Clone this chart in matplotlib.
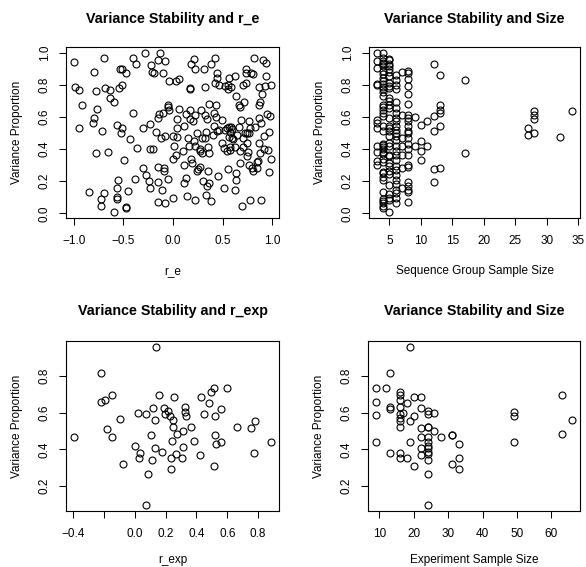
import matplotlib
matplotlib.use('Agg')
import matplotlib.pyplot as plt

plt.rcParams['font.family'] = ['Liberation Sans', 'DejaVu Sans']

# r_e vs variance proportion (top left)
re_x = [-1.00, -0.99, -0.95, -0.92, -0.95, -0.85, -0.80, -0.78, -0.77, -0.80,
        -0.81, -0.78, -0.72, -0.73, -0.73, -0.70, -0.70, -0.69, -0.64, -0.64,
        -0.60, -0.66, -0.60, -0.57, -0.56, -0.56, -0.55, -0.56, -0.53, -0.51,
        -0.54, -0.51, -0.51, -0.52, -0.49, -0.47, -0.47, -0.47, -0.45, -0.43,
        -0.40, -0.40, -0.38, -0.37, -0.36, -0.30, -0.30, -0.28, -0.27, -0.24,
        -0.23, -0.23, -0.20, -0.23, -0.22, -0.21, -0.19, -0.17, -0.15, -0.15,
        -0.15, -0.15, -0.15, -0.14, -0.13, -0.12, -0.11, -0.10, -0.10, -0.09,
        -0.09, -0.08, -0.08, -0.08, -0.05, -0.05, -0.04, -0.05, -0.04, 0.00,
        0.00, 0.00, 0.01, 0.03, 0.06, 0.03, 0.04, 0.04, 0.045, 0.06,
        0.10, 0.11, 0.115, 0.115, 0.13, 0.13, 0.14, 0.15, 0.17, 0.17,
        0.165, 0.17, 0.17, 0.18, 0.19, 0.185, 0.20, 0.21, 0.21, 0.22,
        0.22, 0.22, 0.22, 0.24, 0.25, 0.24, 0.27, 0.27, 0.28, 0.27,
        0.29, 0.29, 0.30, 0.31, 0.32, 0.32, 0.32, 0.33, 0.33, 0.34,
        0.35, 0.34, 0.35, 0.36, 0.36, 0.36, 0.38, 0.38, 0.40, 0.41,
        0.41, 0.42, 0.42, 0.43, 0.43, 0.44, 0.44, 0.44, 0.45, 0.46,
        0.46, 0.49, 0.49, 0.51, 0.51, 0.52, 0.525, 0.54, 0.545, 0.555,
        0.56, 0.56, 0.565, 0.565, 0.57, 0.585, 0.58, 0.58, 0.58, 0.585,
        0.60, 0.60, 0.61, 0.625, 0.625, 0.63, 0.64, 0.64, 0.64, 0.65,
        0.67, 0.67, 0.68, 0.68, 0.68, 0.69, 0.70, 0.705, 0.71, 0.71,
        0.72, 0.73, 0.735, 0.735, 0.74, 0.745, 0.75, 0.75, 0.76, 0.77,
        0.77, 0.77, 0.78, 0.78, 0.79, 0.80, 0.81, 0.81, 0.82, 0.83,
        0.85, 0.85, 0.855, 0.865, 0.865, 0.865, 0.865, 0.875, 0.88, 0.89,
        0.89, 0.90, 0.91, 0.915, 0.92, 0.93, 0.94, 0.94, 0.95, 0.955,
        0.97, 0.97, 0.98, 0.99, 0.99]
re_y = [0.94, 0.785, 0.765, 0.675, 0.53, 0.13, 0.88, 0.76, 0.65, 0.59,
        0.56, 0.375, 0.51, 0.09, 0.045, 0.125, 0.965, 0.78, 0.77, 0.715,
        0.695, 0.38, 0.01, 0.09, 0.10, 0.55, 0.21, 0.16, 0.90, 0.90,
        0.78, 0.80, 0.53, 0.50, 0.33, 0.04, 0.03, 0.87, 0.14, 0.46,
        0.965, 0.625, 0.215, 0.93, 0.405, 0.53, 0.28, 0.995, 0.24, 0.20,
        0.16, 0.40, 0.40, 0.555, 0.925, 0.88, 0.875, 0.505, 0.07, 0.195,
        0.955, 0.29, 0.59, 0.62, 0.995, 0.47, 0.145, 0.625, 0.875, 0.265,
        0.28, 0.945, 0.063, 0.48, 0.66, 0.675, 0.64, 0.215, 0.82, 0.48,
        0.095, 0.34, 0.42, 0.825, 0.835, 0.36, 0.53, 0.585, 0.475, 0.65,
        0.385, 0.19, 0.545, 0.30, 0.62, 0.22, 0.11, 0.47, 0.775, 0.78,
        0.42, 0.64, 0.585, 0.335, 0.31, 0.93, 0.575, 0.45, 0.96, 0.90,
        0.085, 0.61, 0.42, 0.26, 0.275, 0.50, 0.40, 0.385, 0.645, 0.29,
        0.375, 0.47, 0.20, 0.895, 0.785, 0.61, 0.47, 0.505, 0.115, 0.17,
        0.415, 0.585, 0.26, 0.68, 0.19, 0.375, 0.075, 0.93, 0.485, 0.545,
        0.625, 0.81, 0.965, 0.60, 0.675, 0.875, 0.84, 0.51, 0.23, 0.515,
        0.795, 0.58, 0.435, 0.405, 0.16, 0.515, 0.79, 0.53, 0.385, 0.275,
        0.795, 0.775, 0.84, 0.475, 0.535, 0.535, 0.41, 0.395, 0.505, 0.785,
        0.47, 0.525, 0.46, 0.855, 0.415, 0.145, 0.25, 0.21, 0.73, 0.49,
        0.535, 0.675, 0.66, 0.31, 0.385, 0.58, 0.045, 0.47, 0.80, 0.415,
        0.69, 0.50, 0.895, 0.87, 0.81, 0.355, 0.50, 0.435, 0.38, 0.30,
        0.50, 0.575, 0.53, 0.085, 0.87, 0.28, 0.265, 0.865, 0.965, 0.535,
        0.28, 0.32, 0.325, 0.44, 0.785, 0.59, 0.675, 0.375, 0.695, 0.56,
        0.085, 0.74, 0.955, 0.48, 0.40, 0.79, 0.935, 0.855, 0.62, 0.395,
        0.505, 0.255, 0.605, 0.80, 0.335]

# sequence group sample size vs variance proportion (top right)
grp_n = ([3] * 12 + [4] * 40 + [5] * 32 + [6] * 27 + [7] * 7 + [8] * 23
         + [9] * 2 + [10] * 4 + [11] * 2 + [12] * 5 + [13] * 6 + [17] * 2
         + [27] * 2 + [28] * 4 + [32] + [34])
grp_var = [0.996, 0.948, 0.902, 0.802, 0.796, 0.583, 0.563, 0.531, 0.417, 0.381, 0.327, 0.298,
           0.996, 0.965, 0.948, 0.938, 0.927, 0.917, 0.885, 0.865, 0.844, 0.823,
           0.802, 0.788, 0.771, 0.754, 0.729, 0.677, 0.663, 0.646, 0.625, 0.608,
           0.542, 0.510, 0.433, 0.423, 0.415, 0.402, 0.381, 0.371, 0.338, 0.319,
           0.260, 0.248, 0.223, 0.208, 0.135, 0.088, 0.077, 0.063, 0.046, 0.031,
           0.963, 0.952, 0.931, 0.917, 0.896, 0.879, 0.854, 0.813, 0.792, 0.781,
           0.719, 0.698, 0.677, 0.656, 0.594, 0.546, 0.531, 0.510, 0.479, 0.438,
           0.417, 0.365, 0.354, 0.313, 0.292, 0.265, 0.244, 0.177, 0.119, 0.094,
           0.083, 0.010,
           0.858, 0.833, 0.796, 0.771, 0.692, 0.656, 0.625, 0.594, 0.573, 0.542,
           0.521, 0.500, 0.479, 0.458, 0.417, 0.385, 0.365, 0.333, 0.296, 0.271,
           0.240, 0.208, 0.181, 0.146, 0.125, 0.094, 0.063,
           0.881, 0.615, 0.469, 0.421, 0.365, 0.281, 0.156,
           0.885, 0.871, 0.838, 0.792, 0.740, 0.683, 0.615, 0.594, 0.573, 0.546,
           0.515, 0.500, 0.469, 0.433, 0.400, 0.360, 0.302, 0.288, 0.192, 0.167,
           0.146, 0.135, 0.073,
           0.598, 0.417,
           0.552, 0.448, 0.390, 0.329,
           0.573, 0.417,
           0.927, 0.604, 0.510, 0.275, 0.192,
           0.858, 0.677, 0.646, 0.625, 0.542, 0.281,
           0.833, 0.375,
           0.531, 0.490,
           0.640, 0.615, 0.588, 0.500,
           0.473,
           0.638]

# r_exp vs variance proportion (bottom left)
rexp_x = [-0.394, -0.217, -0.22, -0.19, -0.148, -0.178, -0.146, -0.092, -0.073, 0.0,
          0.022, 0.026, 0.037, 0.073, 0.073, 0.086, 0.103, 0.114, 0.12, 0.129,
          0.131, 0.138, 0.155, 0.178, 0.187, 0.194, 0.219, 0.23, 0.234, 0.237,
          0.239, 0.245, 0.249, 0.254, 0.267, 0.273, 0.305, 0.312, 0.316, 0.327,
          0.329, 0.333, 0.363, 0.383, 0.424, 0.432, 0.449, 0.482, 0.495, 0.512,
          0.512, 0.52, 0.523, 0.527, 0.557, 0.561, 0.598, 0.665, 0.755, 0.781,
          0.776, 0.884]
rexp_y = [0.467, 0.815, 0.66, 0.669, 0.698, 0.511, 0.469, 0.565, 0.32, 0.42,
          0.60, 0.355, 0.378, 0.596, 0.098, 0.265, 0.478, 0.342, 0.625, 0.56,
          0.409, 0.958, 0.695, 0.387, 0.629, 0.593, 0.611, 0.585, 0.351, 0.293,
          0.444, 0.522, 0.562, 0.685, 0.375, 0.487, 0.355, 0.502, 0.411, 0.633,
          0.605, 0.582, 0.522, 0.445, 0.369, 0.685, 0.596, 0.651, 0.713, 0.738,
          0.311, 0.582, 0.478, 0.427, 0.62, 0.438, 0.735, 0.524, 0.518, 0.555,
          0.378, 0.442]

# experiment sample size vs variance proportion (bottom right)
exp_n = ([9] * 4 + [12] + [13] * 4 + [16] * 10 + [17] + [18] * 2 + [19] * 3
         + [20] * 3 + [22] * 6 + [24] * 13 + [26] * 2 + [28] + [31] * 3
         + [33] * 3 + [49] * 3 + [63] * 2 + [66])
exp_var = [0.738, 0.66, 0.587, 0.442,
           0.735,
           0.815, 0.633, 0.62, 0.38,
           0.716, 0.70, 0.669, 0.633, 0.596, 0.569, 0.555, 0.52, 0.378, 0.351,
           0.60,
           0.651, 0.355,
           0.556, 0.438, 0.958,
           0.685, 0.582, 0.311,
           0.685, 0.625, 0.515, 0.467, 0.409, 0.367,
           0.611, 0.596, 0.524, 0.52, 0.469, 0.442, 0.420, 0.409, 0.387, 0.375,
           0.342, 0.265, 0.098,
           0.60, 0.502,
           0.469,
           0.48, 0.478, 0.32,
           0.427, 0.355, 0.291,
           0.605, 0.582, 0.442,
           0.695, 0.487,
           0.562]

W, H = 586, 567
fig = plt.figure(figsize=(W / 100, H / 100), dpi=100)


def make_axes(left, top, right, bottom):
    return fig.add_axes([left / W, 1 - bottom / H, (right - left) / W, (bottom - top) / H])


def fmt(v):
    return f'{v:.1f}'.replace('-', '\u2212')


def panel(ax, x, y, title, xlabel, xticks, xlabels, yticks, title_off, xlab_off):
    ax.plot(x, y, 'o', mfc='none', mec='black', ms=5, mew=0.8, ls='none')
    ax.margins(0.04)
    ax.set_xticks(xticks)
    ax.set_xticklabels(xlabels)
    ax.set_yticks(yticks)
    ax.set_yticklabels([fmt(v) for v in yticks], rotation=90, va='center')
    ax.tick_params(direction='out', length=5, width=0.75, labelsize=8.5,
                   colors='black', pad=7)
    ax.tick_params(axis='y', pad=6)
    for s in ax.spines.values():
        s.set_linewidth(0.8)
    ax.annotate(title, (0.5, 1), xycoords='axes fraction', xytext=(0, title_off),
                textcoords='offset pixels', ha='center', va='center',
                fontsize=10.3, fontweight='bold')
    ax.annotate(xlabel, (0.5, 0), xycoords='axes fraction', xytext=(0, xlab_off),
                textcoords='offset pixels', ha='center', va='center', fontsize=8.5,
                annotation_clip=False)
    ax.annotate('Variance Proportion', (0, 0.5), xycoords='axes fraction',
                xytext=(-49, 0), textcoords='offset pixels', ha='center',
                va='center', rotation=90, fontsize=8.5)


ax1 = make_axes(66, 47, 279, 218)
panel(ax1, re_x, re_y, 'Variance Stability and r_e', 'r_e',
      [-1, -0.5, 0, 0.5, 1], [fmt(v) for v in [-1, -0.5, 0, 0.5, 1]],
      [0, 0.2, 0.4, 0.6, 0.8, 1.0], 28, -53)

ax2 = make_axes(369, 47, 580, 218)
panel(ax2, grp_n, grp_var, 'Variance Stability and Size', 'Sequence Group Sample Size',
      [5, 10, 15, 20, 25, 30, 35], ['5', '10', '15', '20', '25', '30', '35'],
      [0, 0.2, 0.4, 0.6, 0.8, 1.0], 28, -53)

ax3 = make_axes(66, 341, 279, 511)
rexp_ticks = [-0.4, -0.2, 0, 0.2, 0.4, 0.6, 0.8]
panel(ax3, rexp_x, rexp_y, 'Variance Stability and r_exp', 'r_exp',
      rexp_ticks, [fmt(v) if v != -0.2 else '' for v in rexp_ticks],
      [0.2, 0.4, 0.6, 0.8], 30, -49)

ax4 = make_axes(368, 341, 580, 511)
panel(ax4, exp_n, exp_var, 'Variance Stability and Size', 'Experiment Sample Size',
      [10, 20, 30, 40, 50, 60], ['10', '20', '30', '40', '50', '60'],
      [0.2, 0.4, 0.6, 0.8], 30, -49)

fig.savefig('out.png', dpi=100)
